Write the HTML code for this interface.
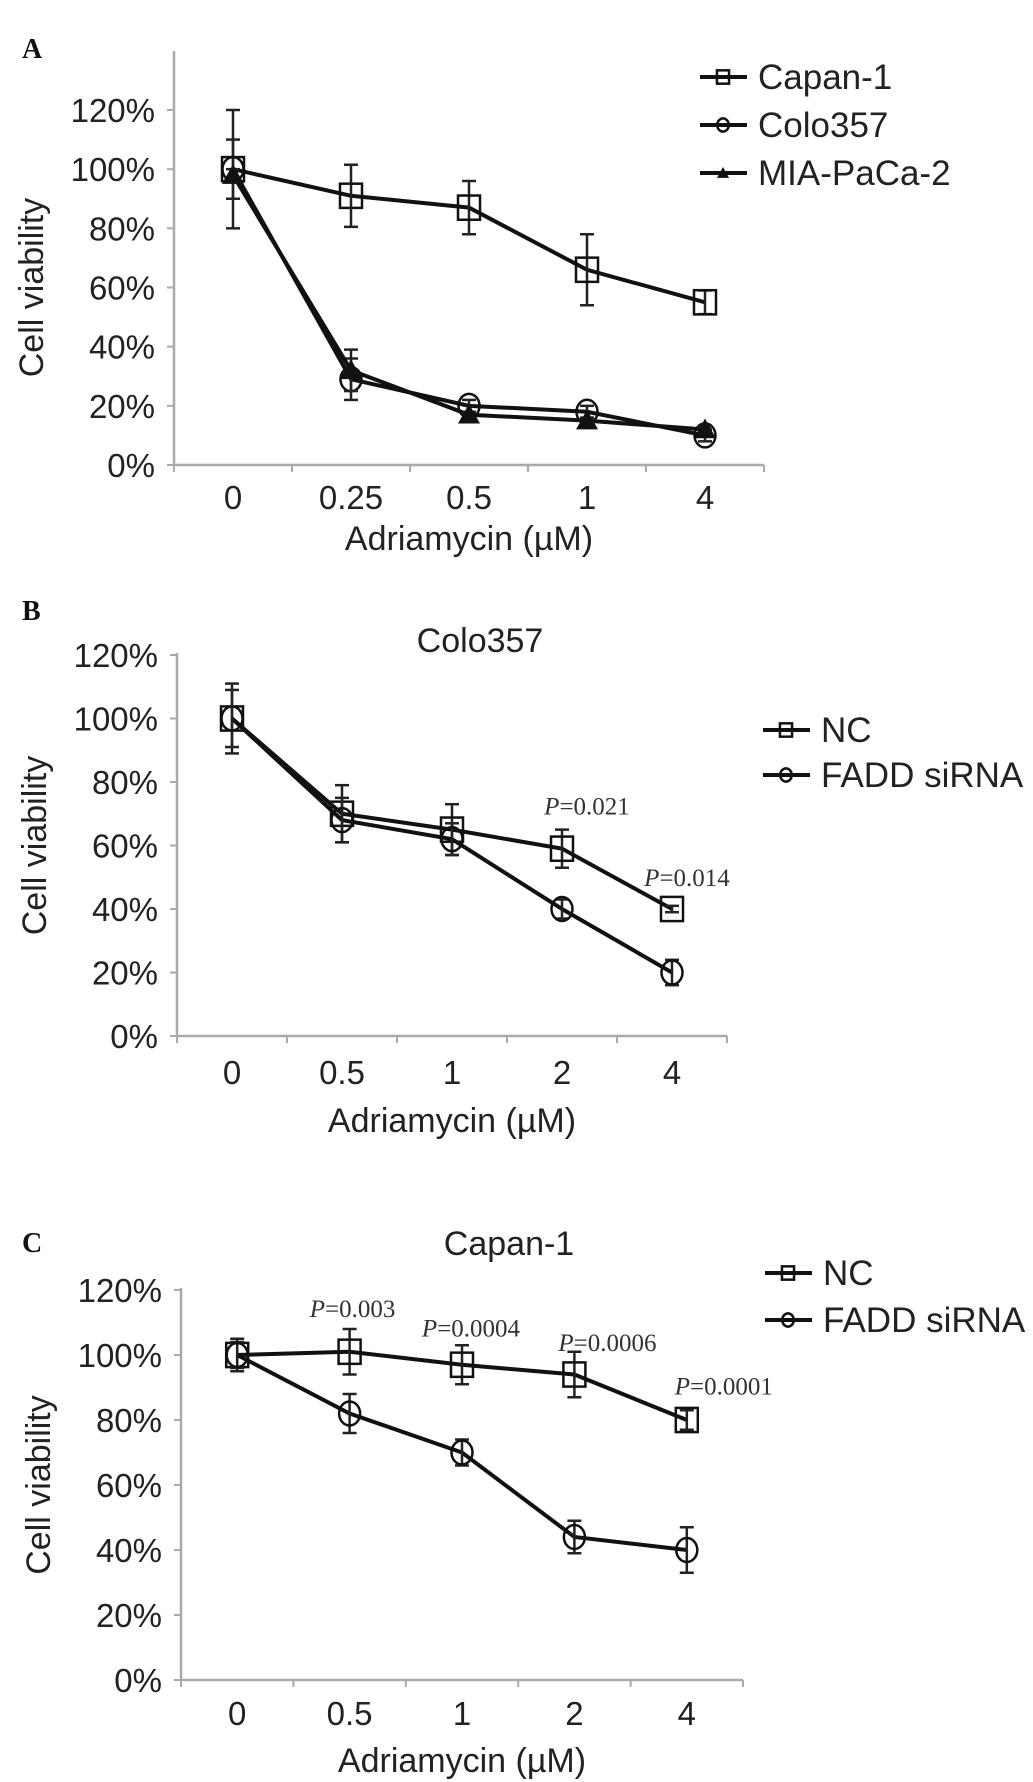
<!DOCTYPE html>
<html><head><meta charset="utf-8"><style>
body{margin:0;background:#fff}
svg{display:block}
text{font-family:"Liberation Sans",sans-serif;fill:#222}
.pan{font-family:"Liberation Serif",serif;font-weight:bold;font-size:28px;fill:#111}
.pv{font-family:"Liberation Serif",serif;font-size:25px;fill:#333}
</style></head><body>
<svg id="fig" width="1033" height="1782" viewBox="0 0 1033 1782" xmlns="http://www.w3.org/2000/svg"></svg>
<script>
// Panel A data
const catsA = ["0","0.25","0.5","1","4"];
const capanA = [100,91,87,66,55];
const capanAErr = [10,10.5,9,12,4];
const coloA = [100,29,20,18,10];
const coloAErr = [20,7,2,2,2];
const miaA = [98,32,17,15,12];
const miaAErr = [2,7,1,1,1];
// Panel B data
const catsB = ["0","0.5","1","2","4"];
const ncB = [100,70,65,59,40];
const ncBErr = [11,9,8,6,1];
const faddB = [100,68,62,40,20];
const faddBErr = [9,7,5,3,4];
const pB = ["","","","0.021","0.014"];
// Panel C data
const catsC = ["0","0.5","1","2","4"];
const ncC = [100,101,97,94,80];
const ncCErr = [5,7,6,7,3];
const faddC = [100,82,70,44,40];
const faddCErr = [4,6,4,5,7];
const pC = ["","0.003","0.0004","0.0006","0.0001"];
const yTicks = ["0%","20%","40%","60%","80%","100%","120%"];
const yTickVals = [0,20,40,60,80,100,120];

const NS="http://www.w3.org/2000/svg";
const svg=document.getElementById('fig');
function el(tag,attrs,parent,txt){const e=document.createElementNS(NS,tag);for(const k in attrs)e.setAttribute(k,attrs[k]);if(txt!==undefined)e.textContent=txt;(parent||svg).appendChild(e);return e;}

function panel(cfg){
  const g=el('g',{});
  
  
  const n=cfg.cats.length, w=(cfg.x1-cfg.x0)/n;
  const X=i=>cfg.x0+w*(i+0.5);
  const Y=v=>cfg.y0-(v/120)*(cfg.y0-cfg.y120);
  const ya=el('line',{x1:cfg.x0,y1:cfg.ytop,x2:cfg.x0,y2:cfg.y0,stroke:'#aaa','stroke-width':2.5},g);
  
  const xa=el('line',{x1:cfg.x0,y1:cfg.y0,x2:cfg.x1,y2:cfg.y0,stroke:'#aaa','stroke-width':2.5},g);
  
  yTickVals.forEach((v,i)=>{
    el('line',{x1:cfg.x0-7,y1:Y(v),x2:cfg.x0,y2:Y(v),stroke:'#aaa','stroke-width':2},g);
    const t=el('text',{x:cfg.x0-19,y:Y(v)+12,'text-anchor':'end','font-size':33},g,yTicks[i]);
    
  });
  for(let i=0;i<=n;i++) el('line',{x1:cfg.x0+w*i,y1:cfg.y0,x2:cfg.x0+w*i,y2:cfg.y0+7,stroke:'#aaa','stroke-width':2},g);
  cfg.cats.forEach((c,i)=>{
    const t=el('text',{x:X(i),y:cfg.y0+cfg.labOff+12,'text-anchor':'middle','font-size':33},g,c);
    
  });
  const xt=el('text',{x:(cfg.x0+cfg.x1)/2,y:cfg.y0+cfg.titOff+12,'text-anchor':'middle','font-size':34},g,'Adriamycin (\u00B5M)');
  
  const ymid=(cfg.y0+cfg.y120)/2;
  const yt=el('text',{x:0,y:0,'text-anchor':'middle','font-size':34,transform:`translate(${cfg.x0-131},${ymid}) rotate(-90)`},g,'Cell viability');
  
  const pl=el('text',{x:22,y:cfg.labelY,class:'pan'},g,cfg.label);
  
  if(cfg.title){const tt=el('text',{x:cfg.titleX,y:cfg.titleY,'text-anchor':'middle','font-size':34},g,cfg.title);
    }
  cfg.series.forEach(s=>{
    const sg=el('g',{},g);
    
    
    const pts=s.vals.map((v,i)=>X(i)+','+Y(v)).join(' ');
    el('polyline',{points:pts,fill:'none',stroke:'#111','stroke-width':4},sg);
    s.vals.forEach((v,i)=>{
      const e=s.err[i],x=X(i);
      el('line',{x1:x,y1:Y(v+e),x2:x,y2:Y(v-e),stroke:'#222','stroke-width':2.5},sg);
      el('line',{x1:x-7,y1:Y(v+e),x2:x+7,y2:Y(v+e),stroke:'#222','stroke-width':2.5},sg);
      el('line',{x1:x-7,y1:Y(v-e),x2:x+7,y2:Y(v-e),stroke:'#222','stroke-width':2.5},sg);
      const m=marker(s.shape,x,Y(v),sg);
      
      
    });
  });
  if(cfg.pvals){cfg.pvals.forEach((p,i)=>{
    if(!p)return;
    const v=cfg.series[0].vals[i]+cfg.series[0].err[i];
    const off=cfg.pOff[i];
    const t=el('text',{x:X(i)+off[0],y:Y(v)+off[1],'text-anchor':'middle',class:'pv'},g);
    el('tspan',{'font-style':'italic'},t,'P');
    el('tspan',{},t,'=' + p);
    
  });}
  cfg.series.forEach((s,i)=>{
    const lg=el('g',{},g);
    
    
    const ly=cfg.legY+i*cfg.legDy;
    el('line',{x1:cfg.legX,y1:ly,x2:cfg.legX+47,y2:ly,stroke:'#111','stroke-width':4},lg);
    marker(s.shape,cfg.legX+23,ly,lg,0.55);
    el('text',{x:cfg.legX+58,y:ly+12,'font-size':35},lg,s.label);
  });
}
function marker(shape,x,y,p,sc){
  sc=sc||1;
  if(shape==='square'){const r=11*sc;return el('rect',{x:x-r,y:y-r*1.1,width:2*r,height:2.2*r,fill:'none',stroke:'#111','stroke-width':2.5},p);}
  if(shape==='circle'){return el('ellipse',{cx:x,cy:y,rx:10.5*sc,ry:12*sc,fill:'none',stroke:'#111','stroke-width':2.5},p);}
  const r=11*sc;return el('polygon',{points:`${x},${y-r} ${x+r},${y+r*0.8} ${x-r},${y+r*0.8}`,fill:'#111'},p);
}

panel({name:'panel-a-chart',label:'A',labelY:58,cats:catsA,x0:174,x1:764,y0:465,y120:110,ytop:51,labOff:32,titOff:73,
  series:[{key:'capan-1',label:'Capan-1',shape:'square',vals:capanA,err:capanAErr},
          {key:'colo357',label:'Colo357',shape:'circle',vals:coloA,err:coloAErr},
          {key:'mia-paca-2',label:'MIA-PaCa-2',shape:'tri',vals:miaA,err:miaAErr}],
  legX:700,legY:77,legDy:48});
panel({name:'panel-b-chart',label:'B',labelY:620,title:'Colo357',titleX:480,titleY:652,cats:catsB,x0:177,x1:727,y0:1036,y120:655,ytop:653,labOff:36,titOff:84,
  series:[{key:'nc',label:'NC',shape:'square',vals:ncB,err:ncBErr},
          {key:'fadd-sirna',label:'FADD siRNA',shape:'circle',vals:faddB,err:faddBErr}],
  pvals:pB,pOff:[[0,0],[0,0],[0,0],[25,-15],[15,-20]],legX:763,legY:730,legDy:45});
panel({name:'panel-c-chart',label:'C',labelY:1252,title:'Capan-1',titleX:509,titleY:1255,cats:catsC,x0:181,x1:743,y0:1680,y120:1290,ytop:1288,labOff:33,titOff:80,
  series:[{key:'nc',label:'NC',shape:'square',vals:ncC,err:ncCErr},
          {key:'fadd-sirna',label:'FADD siRNA',shape:'circle',vals:faddC,err:faddCErr}],
  pvals:pC,pOff:[[0,0],[3,-12],[9,-9],[33,-1],[37,-16]],legX:765,legY:1273,legDy:47});
</script>
</body></html>
